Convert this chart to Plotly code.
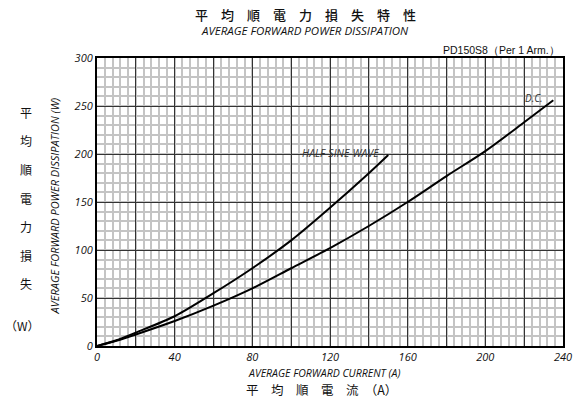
import plotly.graph_objects as go

# Data
hs_current = [0, 10, 20, 40, 60, 80, 100, 120, 140, 150]
hs_power = [0, 6, 14, 31, 55, 81, 110, 144, 180, 199]
dc_current = [0, 10, 20, 40, 60, 80, 100, 120, 140, 160, 180, 200, 220, 235]
dc_power = [0, 5.5, 12, 26, 42, 60, 81, 102, 125, 150, 177, 203, 233, 256]

x_ticks = [0, 20, 40, 60, 80, 100, 120, 140, 160, 180, 200, 220, 240]
x_labels = ["0", "", "40", "", "80", "", "120", "", "160", "", "200", "", "240"]
y_ticks = [0, 50, 100, 150, 200, 250, 300]
y_labels = ["0", "50", "100", "150", "200", "250", "300"]
y_cjk = ["平", "均", "順", "電", "力", "損", "失"]

W, H = 584, 406
L, R, T, B = 97, 565, 57.5, 346

def px(x):
    return (x - L) / (R - L)

def py(y):
    return (B - y) / (B - T)

fig = go.Figure()
fig.add_trace(go.Scatter(x=hs_current, y=hs_power, mode="lines",
                         line=dict(color="black", width=2, shape="spline", smoothing=0.8),
                         showlegend=False, hoverinfo="skip"))
fig.add_trace(go.Scatter(x=dc_current, y=dc_power, mode="lines",
                         line=dict(color="black", width=2, shape="spline", smoothing=0.8),
                         showlegend=False, hoverinfo="skip"))

tickfont = dict(family="Open Sans", size=11, color="#111", style="italic")

fig.update_xaxes(range=[0, 240], tickmode="array", tickvals=x_ticks, ticktext=x_labels,
                 showgrid=True, gridcolor="#333333", gridwidth=1.2,
                 minor=dict(dtick=4, showgrid=True, gridcolor="#c4c4c4", gridwidth=1.5, tick0=0),
                 showline=True, linecolor="black", linewidth=2, mirror=True,
                 ticks="", tickfont=tickfont, zeroline=False)
fig.update_yaxes(range=[0, 300], tickmode="array", tickvals=y_ticks, ticktext=y_labels,
                 showgrid=True, gridcolor="#333333", gridwidth=1.2,
                 minor=dict(dtick=10, showgrid=True, gridcolor="#c4c4c4", gridwidth=1.5, tick0=0),
                 showline=True, linecolor="black", linewidth=2, mirror=True,
                 ticks="", tickfont=tickfont, zeroline=False)

ann = []
ann.append(dict(text="平　均　順　電　力　損　失　特　性", x=px(306), y=py(14), xref="paper", yref="paper",
                showarrow=False, font=dict(family="Noto Sans CJK JP", size=13, color="#111", weight=500),
                xanchor="center", yanchor="middle"))
ann.append(dict(text="AVERAGE FORWARD POWER DISSIPATION", x=px(306), y=py(30), xref="paper", yref="paper",
                showarrow=False, font=dict(family="Open Sans", size=11.5, color="#111", style="italic"),
                xanchor="center", yanchor="middle"))
ann.append(dict(text="PD150S8（Per 1 Arm.）", x=px(564), y=py(49), xref="paper", yref="paper",
                showarrow=False, font=dict(family="Liberation Sans", size=10.5, color="#111"),
                xanchor="right", yanchor="middle"))
ann.append(dict(text="HALF-SINE-WAVE", x=125.5, y=201, xref="x", yref="y", showarrow=False,
                font=dict(family="Open Sans", size=10.5, color="#333", style="italic"),
                xanchor="center", yanchor="middle"))
ann.append(dict(text="D.C.", x=225, y=258, xref="x", yref="y", showarrow=False,
                font=dict(family="Open Sans", size=10, color="#333", style="italic"),
                xanchor="center", yanchor="middle"))
ann.append(dict(text="AVERAGE FORWARD CURRENT (A)", x=px(325), y=py(373), xref="paper", yref="paper",
                showarrow=False, font=dict(family="Open Sans", size=10.5, color="#111", style="italic"),
                xanchor="center", yanchor="middle"))
ann.append(dict(text="平　均　順　電　流　（A）", x=px(322), y=py(390), xref="paper", yref="paper",
                showarrow=False, font=dict(family="Noto Sans CJK JP", size=12.5, color="#111"),
                xanchor="center", yanchor="middle"))
ann.append(dict(text="AVERAGE FORWARD POWER DISSIPATION (W)", x=px(54), y=py(206), xref="paper", yref="paper",
                showarrow=False, textangle=-90,
                font=dict(family="Open Sans", size=11, color="#111", style="italic"),
                xanchor="center", yanchor="middle"))
for i, ch in enumerate(y_cjk):
    ann.append(dict(text=ch, x=px(26), y=py(112 + i * 28.6), xref="paper", yref="paper",
                    showarrow=False, font=dict(family="Noto Sans CJK JP", size=12, color="#111"),
                    xanchor="center", yanchor="middle"))
ann.append(dict(text="（W）", x=px(22), y=py(325), xref="paper", yref="paper",
                showarrow=False, font=dict(family="Noto Sans CJK JP", size=12, color="#111"),
                xanchor="center", yanchor="middle"))

fig.update_layout(width=W, height=H, margin=dict(l=L, r=W - R, t=T, b=H - B),
                  paper_bgcolor="white", plot_bgcolor="white", annotations=ann)

fig.write_html("out.html", config={"displayModeBar": False},
               post_script="document.body.style.margin='0';")
